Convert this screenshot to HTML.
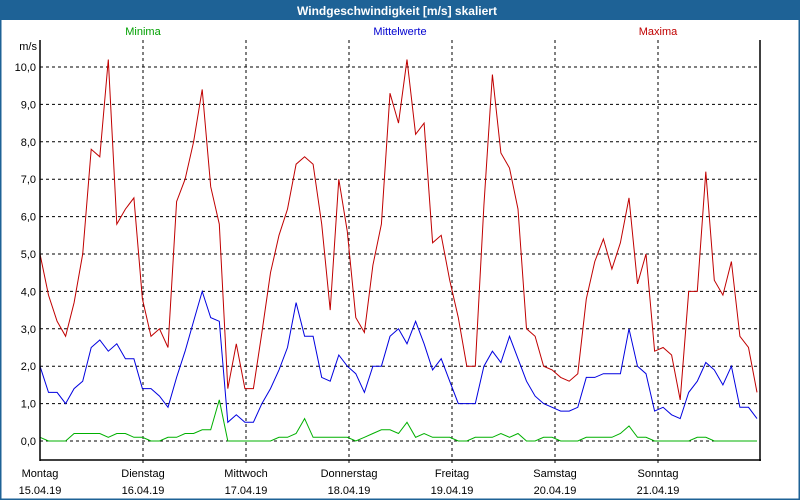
<!DOCTYPE html>
<html><head><meta charset="utf-8"><style>
body{margin:0;background:#fff;}
#wrap{position:relative;width:800px;height:500px;overflow:hidden;font-family:"Liberation Sans",sans-serif;}
svg text{font-family:"Liberation Sans","DejaVu Sans",sans-serif;}
</style></head><body>
<div id="wrap">
<svg id="chart" width="800" height="500">
<rect x="0" y="0" width="800" height="500" fill="#fff" stroke="#1e6296" stroke-width="3"/>
<rect x="0" y="0" width="800" height="20" fill="#1e6296"/>
<text x="397" y="15" text-anchor="middle" fill="#fff" font-size="12" font-weight="bold">Windgeschwindigkeit [m/s] skaliert</text>
<text x="143" y="35" text-anchor="middle" fill="#00a000" font-size="11">Minima</text>
<text x="400" y="35" text-anchor="middle" fill="#0000d0" font-size="11">Mittelwerte</text>
<text x="658" y="35" text-anchor="middle" fill="#c00000" font-size="11">Maxima</text>
<text x="37" y="50" text-anchor="end" font-size="11" fill="#000">m/s</text>
<g id="grid"></g><g id="series"></g><g id="labels"></g>
<line x1="40" y1="40" x2="40" y2="461" stroke="#000" stroke-width="1.5"/>
<line x1="40" y1="460" x2="761" y2="460" stroke="#000" stroke-width="1.5"/>
<line x1="760" y1="40" x2="760" y2="461" stroke="#000" stroke-width="1.5"/>
</svg></div>
<script>
const yTicks=[0,1,2,3,4,5,6,7,8,9,10];
const yTickLabels=["0,0","1,0","2,0","3,0","4,0","5,0","6,0","7,0","8,0","9,0","10,0"];
const dayNames=["Montag","Dienstag","Mittwoch","Donnerstag","Freitag","Samstag","Sonntag"];
const dayDates=["15.04.19","16.04.19","17.04.19","18.04.19","19.04.19","20.04.19","21.04.19"];
const maxima=[5.0,3.9,3.2,2.8,3.7,5.0,7.8,7.6,10.2,5.8,6.2,6.5,
3.8,2.8,3.0,2.5,6.4,7.0,8.0,9.4,6.8,5.8,1.4,2.6,
1.4,1.4,2.9,4.5,5.5,6.2,7.4,7.6,7.4,5.8,3.5,7.0,
5.6,3.3,2.9,4.7,5.8,9.3,8.5,10.2,8.2,8.5,5.3,5.5,
4.3,3.3,2.0,2.0,6.3,9.8,7.7,7.3,6.2,3.0,2.8,2.0,
1.9,1.7,1.6,1.8,3.8,4.8,5.4,4.6,5.3,6.5,4.2,5.0,
2.4,2.5,2.3,1.1,4.0,4.0,7.2,4.3,3.9,4.8,2.8,2.5,1.3];
const mittelwerte=[2.0,1.3,1.3,1.0,1.4,1.6,2.5,2.7,2.4,2.6,2.2,2.2,
1.4,1.4,1.2,0.9,1.7,2.4,3.2,4.0,3.3,3.2,0.5,0.7,
0.5,0.5,1.0,1.4,1.9,2.5,3.7,2.8,2.8,1.7,1.6,2.3,
2.0,1.8,1.3,2.0,2.0,2.8,3.0,2.6,3.2,2.6,1.9,2.2,
1.6,1.0,1.0,1.0,2.0,2.4,2.1,2.8,2.2,1.6,1.2,1.0,
0.9,0.8,0.8,0.9,1.7,1.7,1.8,1.8,1.8,3.0,2.0,1.8,
0.8,0.9,0.7,0.6,1.3,1.6,2.1,1.9,1.5,2.0,0.9,0.9,0.6];
const minima=[0.1,0.0,0.0,0.0,0.2,0.2,0.2,0.2,0.1,0.2,0.2,0.1,
0.1,0.0,0.0,0.1,0.1,0.2,0.2,0.3,0.3,1.1,0.0,0.0,
0.0,0.0,0.0,0.0,0.1,0.1,0.2,0.6,0.1,0.1,0.1,0.1,
0.1,0.0,0.1,0.2,0.3,0.3,0.2,0.5,0.1,0.2,0.1,0.1,
0.1,0.0,0.0,0.1,0.1,0.1,0.2,0.1,0.2,0.0,0.0,0.1,
0.1,0.0,0.0,0.0,0.1,0.1,0.1,0.1,0.2,0.4,0.1,0.1,
0.0,0.0,0.0,0.0,0.0,0.1,0.1,0.0,0.0,0.0,0.0,0.0,0.0];
const NS="http://www.w3.org/2000/svg";
const X0=40,PXH=4.2;
function xScale(h){return X0+h*PXH;}
function yScale(v){return 441-v*37.4;}
function mk(tag,attrs,parent){const e=document.createElementNS(NS,tag);for(const k in attrs)e.setAttribute(k,attrs[k]);parent.appendChild(e);return e;}
const grid=document.getElementById('grid'),labels=document.getElementById('labels'),series=document.getElementById('series');
yTicks.forEach((v,i)=>{
  const l=mk('line',{x1:40,x2:760,y1:yScale(v),y2:yScale(v),stroke:'#000','stroke-dasharray':'3,3'},grid);
  
  
  const t=mk('text',{x:36,y:yScale(v)+4,'text-anchor':'end','font-size':'11',fill:'#000'},labels);
  t.textContent=yTickLabels[i];
  
  
});
dayNames.forEach((d,i)=>{
  const x=xScale(i*24+0.0)+i*(103-24*PXH);
  if(i>0){const l=mk('line',{x1:x,x2:x,y1:40,y2:465,stroke:'#000','stroke-dasharray':'3,3'},grid);
  
  }
  const t=mk('text',{x:x,y:477,'text-anchor':'middle','font-size':'11',fill:'#000'},labels);
  t.textContent=d;
  
  
  const t2=mk('text',{x:x,y:494,'text-anchor':'middle','font-size':'11',fill:'#000'},labels);
  t2.textContent=dayDates[i];
  
  
});
function xi(i,n){return X0+i*(717/(n-1));}
function draw(arr,color,name){
  const pts=arr.map((v,i)=>xi(i,arr.length).toFixed(1)+','+yScale(v).toFixed(1)).join(' ');
  const p=mk('polyline',{points:pts,fill:'none',stroke:color,'stroke-width':'1'},series);
  
  
}
draw(minima,'#00b000','minima-line');
draw(mittelwerte,'#0000e0','mittelwerte-line');
draw(maxima,'#c00000','maxima-line');
</script>
</body></html>
